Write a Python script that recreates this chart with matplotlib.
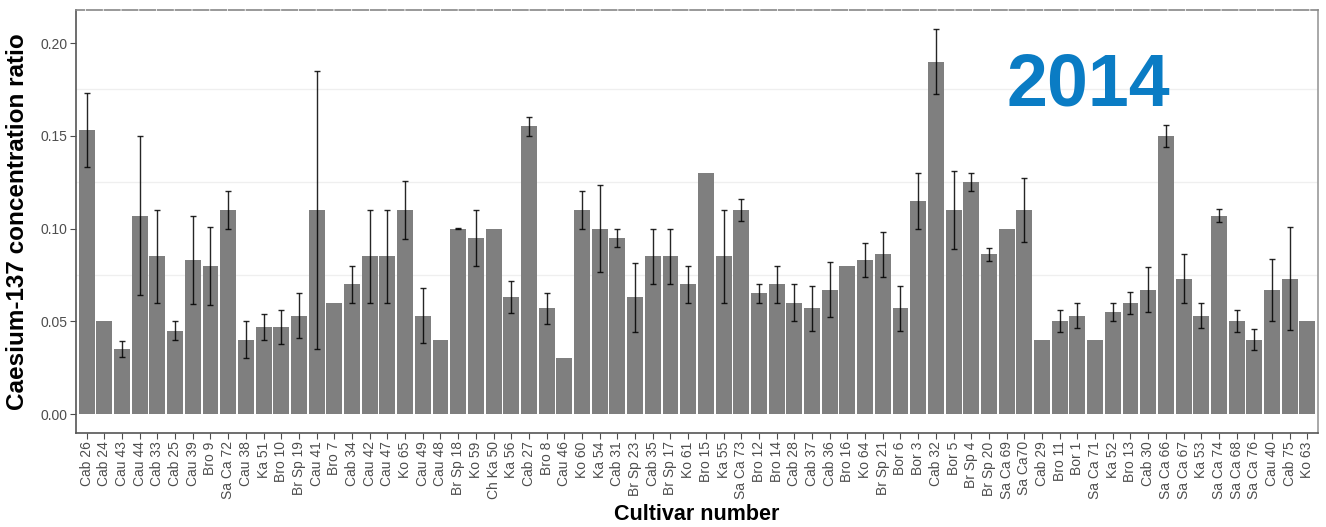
import matplotlib
matplotlib.use("Agg")
import matplotlib.pyplot as plt
import numpy as np

plt.rcParams['font.family'] = ['Liberation Sans', 'DejaVu Sans']
plt.rcParams['lines.scale_dashes'] = False

cultivars = ["Cab 26", "Cab 24", "Cau 43", "Cau 44", "Cab 33", "Cab 25", "Cau 39", "Bro 9",
             "Sa Ca 72", "Cau 38", "Ka 51", "Bro 10", "Br Sp 19", "Cau 41", "Bro 7", "Cab 34",
             "Cau 42", "Cau 47", "Ko 65", "Cau 49", "Cau 48", "Br Sp 18", "Ko 59", "Ch Ka 50",
             "Ka 56", "Cab 27", "Bro 8", "Cau 46", "Ko 60", "Ka 54", "Cab 31", "Br Sp 23",
             "Cab 35", "Br Sp 17", "Ko 61", "Bro 15", "Ka 55", "Sa Ca 73", "Bro 12", "Bro 14",
             "Cab 28", "Cab 37", "Cab 36", "Bro 16", "Ko 64", "Br Sp 21", "Bor 6", "Bor 3",
             "Cab 32", "Bor 5", "Br Sp 4", "Br Sp 20", "Sa Ca 69", "Sa Ca70", "Cab 29", "Bro 11",
             "Bor 1", "Sa Ca 71", "Ka 52", "Bro 13", "Cab 30", "Sa Ca 66", "Sa Ca 67", "Ka 53",
             "Sa Ca 74", "Sa Ca 68", "Sa Ca 76", "Cau 40", "Cab 75", "Ko 63"]

ratio = [0.153, 0.050, 0.035, 0.107, 0.085, 0.045, 0.083, 0.080,
         0.110, 0.040, 0.047, 0.047, 0.053, 0.110, 0.060, 0.070,
         0.085, 0.085, 0.110, 0.053, 0.040, 0.100, 0.095, 0.100,
         0.063, 0.155, 0.057, 0.030, 0.110, 0.100, 0.095, 0.063,
         0.085, 0.085, 0.070, 0.130, 0.085, 0.110, 0.065, 0.070,
         0.060, 0.057, 0.067, 0.080, 0.083, 0.086, 0.057, 0.115,
         0.190, 0.110, 0.125, 0.086, 0.100, 0.110, 0.040, 0.050,
         0.053, 0.040, 0.055, 0.060, 0.067, 0.150, 0.073, 0.053,
         0.107, 0.050, 0.040, 0.067, 0.073, 0.050]

error = [0.020, 0.0, 0.0045, 0.043, 0.025, 0.005, 0.0235, 0.021,
         0.010, 0.010, 0.007, 0.009, 0.012, 0.075, 0.0, 0.010,
         0.025, 0.025, 0.0157, 0.0147, 0.0, 0.0003, 0.015, 0.0,
         0.0085, 0.005, 0.0085, 0.0, 0.010, 0.0234, 0.005, 0.0186,
         0.015, 0.015, 0.010, 0.0, 0.025, 0.006, 0.005, 0.010,
         0.010, 0.012, 0.0148, 0.0, 0.009, 0.012, 0.012, 0.015,
         0.0175, 0.021, 0.005, 0.0033, 0.0, 0.0175, 0.0, 0.006,
         0.0066, 0.0, 0.005, 0.006, 0.012, 0.0058, 0.0133, 0.0066,
         0.0034, 0.006, 0.0056, 0.0168, 0.0277, 0.0]

y_ticks = [0.00, 0.05, 0.10, 0.15, 0.20]
y_tick_labels = ["0.00", "0.05", "0.10", "0.15", "0.20"]
minor_grid = [0.075, 0.125, 0.175]

W, H = 1326, 527
fig = plt.figure(figsize=(W / 100, H / 100), dpi=100)
ax = fig.add_axes([76 / W, 1 - 433 / H, (1318 - 76) / W, (433 - 10) / H])

x = np.arange(len(cultivars))
for g in minor_grid:
    ax.axhline(g, color='#efefef', lw=0.9, zorder=0)

ax.bar(x, ratio, width=0.9, color='#7f7f7f', zorder=2)
err_mask = np.array(error) > 0
ax.errorbar(x[err_mask], np.array(ratio)[err_mask], yerr=np.array(error)[err_mask],
            fmt='none', ecolor='black', elinewidth=1.0, capsize=2.2, capthick=1.0,
            alpha=0.85, zorder=3)

ax.set_xlim(-0.6, len(cultivars) - 0.4)
ax.set_ylim(-0.01024, 0.2178)
ax.set_yticks(y_ticks)
ax.set_yticklabels(y_tick_labels)
ax.set_xticks(x)
ax.set_xticklabels(cultivars, rotation=90)
ax.tick_params(axis='both', colors='#4d4d4d', labelsize=10, length=4, width=0.8, pad=2)

for side in ['left', 'bottom']:
    ax.spines[side].set_color('#555555')
    ax.spines[side].set_linewidth(1.2)
ax.spines['right'].set_color('#999999')
ax.spines['right'].set_linewidth(1.2)
ax.spines['top'].set_color('#888888')
ax.spines['top'].set_linewidth(1.2)
pitch_pt = (1242 / 70) * 0.72
ax.spines['top'].set_linestyle((5.0, (pitch_pt * 0.86, pitch_pt * 0.14)))

ax.set_ylabel("Caesium-137 concentration ratio", fontsize=17.5, fontweight='bold',
              color='black')
ax.yaxis.set_label_coords((29 - 76) / 1242, 0.5)
fig.text(0.5 * (76 + 1318) / W, 1 - 515 / H, "Cultivar number", fontsize=15.5,
         fontweight='bold', ha='center', va='center')

fig.text(1088 / W, 1 - 105 / H, "2014", fontsize=53, fontweight='bold',
         color='#0a7cc4', ha='center', va='baseline')

fig.savefig("out.png", dpi=100)
